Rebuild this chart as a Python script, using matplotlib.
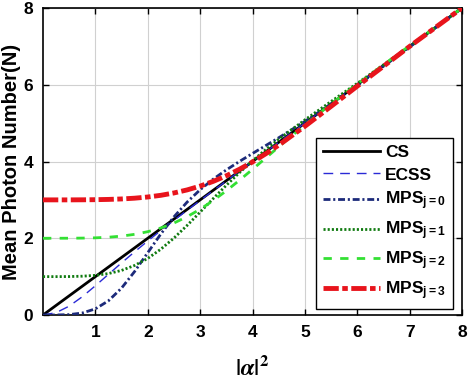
import matplotlib
matplotlib.use("Agg")
import matplotlib.pyplot as plt

plt.rcParams['font.family'] = ['Liberation Sans', 'DejaVu Sans']
plt.rcParams['font.weight'] = 'bold'
plt.rcParams['mathtext.fontset'] = 'custom'
plt.rcParams['mathtext.rm'] = 'Liberation Sans:bold'
plt.rcParams['mathtext.it'] = 'Liberation Sans:bold'
plt.rcParams['mathtext.bf'] = 'Liberation Sans:bold'
plt.rcParams['lines.scale_dashes'] = False

# ---- data ----
x_vals = [0, 0.25, 0.5, 0.75, 1, 1.25, 1.5, 1.75, 2, 2.25, 2.5, 2.75, 3,
          3.25, 3.5, 3.75, 4, 4.25, 4.5, 5, 5.5, 6, 7, 8]
cs = [0, 0.25, 0.5, 0.75, 1, 1.25, 1.5, 1.75, 2, 2.25, 2.5, 2.75, 3,
      3.25, 3.5, 3.75, 4, 4.25, 4.5, 5, 5.5, 6, 7, 8]
ecss = [0, 0.061, 0.231, 0.476, 0.762, 1.060, 1.358, 1.647, 1.928, 2.201,
        2.467, 2.728, 2.985, 3.240, 3.494, 3.746, 3.997, 4.249, 4.499, 5.0,
        5.5, 6.0, 7.0, 8.0]
mps_j0 = [0, 0.001, 0.010, 0.052, 0.160, 0.370, 0.701, 1.135, 1.624, 2.112,
          2.557, 2.940, 3.264, 3.540, 3.781, 4.001, 4.209, 4.413, 4.618,
          5.045, 5.500, 5.980, 6.982, 8.0]
mps_j1 = [1.0, 1.000, 1.002, 1.011, 1.033, 1.080, 1.162, 1.292, 1.475, 1.715,
          2.005, 2.332, 2.681, 3.034, 3.380, 3.709, 4.018, 4.308, 4.580,
          5.085, 5.564, 6.037, 7.001, 8.0]
mps_j2 = [2.0, 2.000, 2.001, 2.004, 2.011, 2.027, 2.056, 2.102, 2.171, 2.268,
          2.397, 2.560, 2.756, 2.983, 3.237, 3.510, 3.796, 4.088, 4.381,
          4.954, 5.500, 6.020, 7.018, 8.0]
mps_j3 = [3.0, 3.000, 3.000, 3.002, 3.005, 3.012, 3.024, 3.044, 3.075, 3.119,
          3.180, 3.259, 3.359, 3.482, 3.628, 3.797, 3.988, 4.199, 4.426,
          4.918, 5.437, 5.963, 6.999, 8.0]

labels = ['CS', 'ECSS', r'MPS$_{\mathbf{j=0}}$', r'MPS$_{\mathbf{j=1}}$',
          r'MPS$_{\mathbf{j=2}}$', r'MPS$_{\mathbf{j=3}}$']
x_ticks = [1, 2, 3, 4, 5, 6, 7, 8]
y_ticks = [0, 2, 4, 6, 8]

fig = plt.figure(figsize=(4.70, 3.89), dpi=100)
ax = fig.add_axes([43/470, 1 - 315/389, 419/470, 307/389])

ax.plot(x_vals, cs, color='black', lw=2.0, label=labels[0], zorder=3)
ax.plot(x_vals, ecss, color='#2a2ad6', lw=1.0, dashes=(7, 5), label=labels[1], zorder=3)
ax.plot(x_vals, mps_j0, color='#1c2a7a', lw=2.0, dashes=(5, 2, 1.5, 2), label=labels[2], zorder=3)
ax.plot(x_vals, mps_j1, color='#0f7a0f', lw=2.0, dashes=(1.5, 1.5), label=labels[3], zorder=3)
ax.plot(x_vals, mps_j2, color='#33e033', lw=2.0, dashes=(6, 6), label=labels[4], zorder=3)
ax.plot(x_vals, mps_j3, color='#e8141c', lw=3.5, dashes=(11, 2.5, 4, 2.5), label=labels[5], zorder=4)

ax.set_xlim(0, 8)
ax.set_ylim(0, 8)
ax.set_xticks(x_ticks)
ax.set_yticks(y_ticks)
ax.tick_params(direction='in', top=True, right=True, length=4, width=1,
               labelsize=12.5, pad=7)
for lbl in ax.get_xticklabels() + ax.get_yticklabels():
    lbl.set_fontweight('bold')
ax.grid(True, color='#d0d0d0', lw=0.8)
ax.set_axisbelow(True)
for s in ax.spines.values():
    s.set_linewidth(1.2)

ax.set_ylabel('Mean Photon Number(N)', fontsize=14.5, fontweight='bold')
ax.yaxis.set_label_coords((21 - 43) / 419, 0.5)
ax.set_xlabel(r'$|\alpha|^2$', fontsize=17, math_fontfamily='stix', labelpad=12)

leg = ax.legend(loc='upper right', bbox_to_anchor=((453-43)/419, (315-138)/307),
                borderaxespad=0, fancybox=False, edgecolor='black', framealpha=1,
                fontsize=12.5, handlelength=3.3, handletextpad=0.3,
                labelspacing=0.42, borderpad=0.4)
leg.get_frame().set_linewidth(1.0)

fig.savefig('out.png', dpi=100)
